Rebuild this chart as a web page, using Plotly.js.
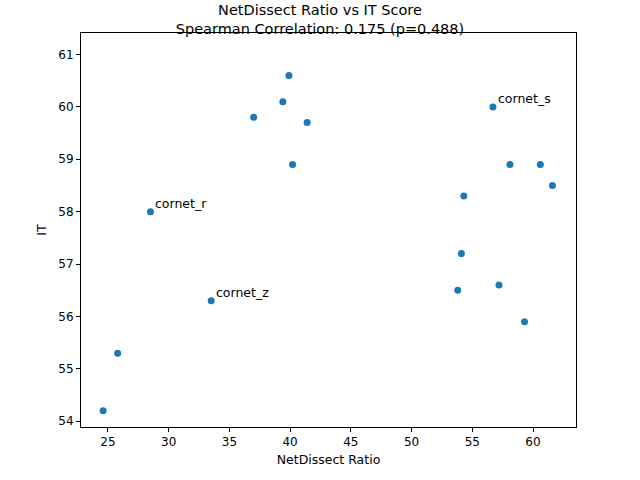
<!DOCTYPE html>
<html>
<head>
<script src="https://cdn.plot.ly/plotly-3.0.1.min.js"></script>
<style>body{margin:0}</style>
</head>
<body>
<div id="plot" style="width:640px;height:480px"></div>
<script>
var ratio = [24.6, 25.8, 28.5, 33.5, 37.0, 39.4, 39.9, 40.2, 41.4, 53.8, 54.1, 54.3, 56.7, 57.2, 58.1, 59.3, 60.6, 61.6];
var itScore = [54.2, 55.3, 58.0, 56.3, 59.8, 60.1, 60.6, 58.9, 59.7, 56.5, 57.2, 58.3, 60.0, 56.6, 58.9, 55.9, 58.9, 58.5];
var labelNames = ['cornet_r', 'cornet_z', 'cornet_s'];
var labelX = [28.5, 33.5, 56.7];
var labelY = [58.0, 56.3, 60.0];

var data = [{
  type: 'scatter',
  mode: 'markers',
  x: ratio,
  y: itScore,
  marker: {color: '#1f77b4', size: 7}
}];

var annotations = labelNames.map(function (n, i) {
  return {x: labelX[i], y: labelY[i], text: n, showarrow: false,
    xanchor: 'left', yanchor: 'bottom', xshift: 3, yshift: -1,
    font: {size: 12.5, color: '#000'}};
});

var axisStyle = {
  showgrid: false, zeroline: false, showline: true, mirror: true,
  linecolor: '#000', linewidth: 1, ticks: 'outside', ticklen: 4,
  tickcolor: '#000', tickfont: {size: 12, color: '#000'}
};

var layout = {
  width: 640, height: 480,
  margin: {l: 81, r: 64, t: 33, b: 53},
  font: {family: 'DejaVu Sans', color: '#000'},
  showlegend: false,
  plot_bgcolor: '#fff', paper_bgcolor: '#fff',
  title: {text: 'NetDissect Ratio vs IT Score<br>Spearman Correlation: 0.175 (p=0.488)',
    font: {size: 14.5}, x: 0.5, xanchor: 'center', y: 0.968, yanchor: 'top'},
  xaxis: Object.assign({}, axisStyle, {range: [22.78, 63.54], dtick: 5,
    title: {text: 'NetDissect Ratio', font: {size: 12.5}, standoff: 6}}),
  yaxis: Object.assign({}, axisStyle, {range: [53.89, 61.41], dtick: 1,
    title: {text: 'IT', font: {size: 12.5}, standoff: 8}}),
  annotations: annotations
};

Plotly.newPlot('plot', data, layout, {displayModeBar: false});
</script>
</body>
</html>
